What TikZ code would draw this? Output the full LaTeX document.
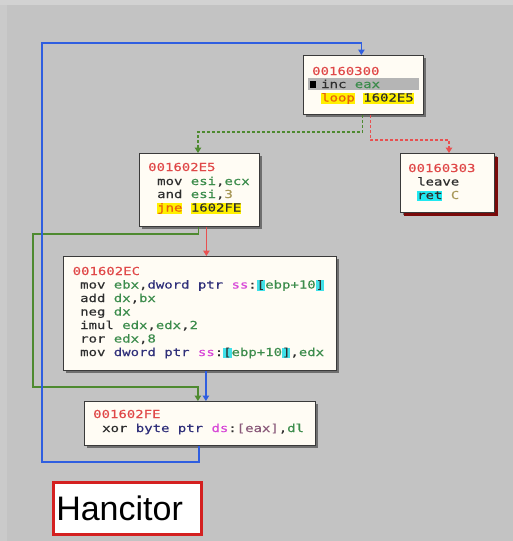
\documentclass[tikz,border=0pt]{standalone}
\usepackage{fontspec}
\usetikzlibrary{arrows.meta,shadows}
\newfontfamily\asm{DejaVu Sans Mono}[FakeStretch=1.27,FakeBold=0.35]
\newfontfamily\labelfont{Liberation Sans}

\definecolor{bg}{HTML}{C3C3C3}
\definecolor{bgtop}{HTML}{D2D2D2}
\definecolor{bgleft}{HTML}{CACACA}
\definecolor{addr}{HTML}{E04848}
\definecolor{mnem}{HTML}{2E2E2E}
\definecolor{reg}{HTML}{3C8C4C}
\definecolor{ptrc}{HTML}{30307A}
\definecolor{seg}{HTML}{D848D8}
\definecolor{imm}{HTML}{A89858}
\definecolor{memc}{HTML}{8A5A7A}
\definecolor{jmpt}{HTML}{E8600A}
\definecolor{jmpbg}{HTML}{FFF000}
\definecolor{retbg}{HTML}{20E8F0}
\definecolor{brkbg}{HTML}{40E0E8}
\definecolor{cream}{HTML}{FFFCF4}
\definecolor{edge}{HTML}{3A3A3A}
\definecolor{shade}{HTML}{6E6E6E}
\definecolor{retshade}{HTML}{7A0A0A}
\definecolor{sel}{HTML}{B5B5B5}
\definecolor{linkblue}{HTML}{2F5EE0}
\definecolor{linkgreen}{HTML}{4E8A30}
\definecolor{linkred}{HTML}{E85050}
\definecolor{tagred}{HTML}{D42020}

% operand colouring
\newcommand\Ad[1]{\textcolor{addr}{#1}}
\newcommand\Rg[1]{\textcolor{reg}{#1}}
\newcommand\Pt[1]{\textcolor{ptrc}{#1}}
\newcommand\Sg[1]{\textcolor{seg}{#1}}
\newcommand\Imm[1]{\textcolor{imm}{#1}}
\newcommand\Hl[2]{{\setlength{\fboxsep}{0pt}\colorbox{#1}{\vphantom{Ap[}#2}}}

\tikzset{
  x=1pt, y=-1pt,
  blk/.style={draw=edge, fill=cream, line width=0.8pt, anchor=north west,
    inner sep=0pt, drop shadow={shadow xshift=3pt, shadow yshift=-3pt,
    fill=shade, opacity=1}},
  retblk/.style={blk, drop shadow={shadow xshift=4pt, shadow yshift=-4pt,
    fill=retshade, opacity=1}},
  asmline/.style={anchor=base west, inner sep=0pt, font=\asm\fontsize{11}{11}\selectfont,
    text=mnem},
  link/.style={line width=1.2pt, -{Triangle[width=6.5pt,length=5.5pt]}},
  dashlink/.style={link, dash pattern=on 3pt off 2pt},
}

\begin{document}
\begin{tikzpicture}
% backdrop
\fill[bg] (0,0) rectangle (513,541);
\fill[bgtop] (0,0) rectangle (513,5);
\fill[bgleft] (0,5) rectangle (7,541);

% basic blocks
\node[blk, minimum width=120pt, minimum height=59pt] (B1) at (303,55) {};
\node[blk, minimum width=120pt, minimum height=73pt] (B2) at (139,153) {};
\node[retblk, minimum width=94pt, minimum height=59pt] (B3) at (400,153) {};
\node[blk, minimum width=273pt, minimum height=114pt] (B4) at (63,256) {};
\node[blk, minimum width=231pt, minimum height=44pt] (B5) at (84,401) {};

% block 00160300
\fill[sel] (308,78) rectangle (419,90);
\fill[black] (309.5,81) rectangle (316,87.5);
\node[asmline] (b1l0) at (312,75) {\Ad{00160300}};
\node[asmline] (b1l1) at (321,88) {inc \Rg{eax}};
\node[asmline] (b1l2) at (321,101.5) {\Hl{jmpbg}{\textcolor{jmpt}{loop}} \Hl{jmpbg}{1602E5}};

% block 001602E5
\node[asmline] (b2l0) at (148,171) {\Ad{001602E5}};
\node[asmline] (b2l1) at (157,185) {mov \Rg{esi},\Rg{ecx}};
\node[asmline] (b2l2) at (157,198) {and \Rg{esi},\Imm{3}};
\node[asmline] (b2l3) at (157,211.5) {\Hl{jmpbg}{\textcolor{jmpt}{jne}} \Hl{jmpbg}{1602FE}};

% block 00160303
\node[asmline] (b3l0) at (408,172) {\Ad{00160303}};
\node[asmline] (b3l1) at (417,185.5) {leave};
\node[asmline] (b3l2) at (417,199) {\Hl{retbg}{ret} \Imm{C}};

% block 001602EC
\node[asmline] (b4l0) at (72.5,275) {\Ad{001602EC}};
\node[asmline] (b4l1) at (80,288.5) {mov \Rg{ebx},\Pt{dword ptr} \Sg{ss}:\Hl{brkbg}{[}\Rg{ebp+10}\Hl{brkbg}{]}};
\node[asmline] (b4l2) at (80,302) {add \Rg{dx},\Rg{bx}};
\node[asmline] (b4l3) at (80,315.5) {neg \Rg{dx}};
\node[asmline] (b4l4) at (80,329) {imul \Rg{edx},\Rg{edx},\Rg{2}};
\node[asmline] (b4l5) at (80,342.5) {ror \Rg{edx},\Rg{8}};
\node[asmline] (b4l6) at (80,356) {mov \Pt{dword ptr} \Sg{ss}:\Hl{brkbg}{[}\Rg{ebp+10}\Hl{brkbg}{]},\Rg{edx}};

% block 001602FE
\node[asmline] (b5l0) at (93,418) {\Ad{001602FE}};
\node[asmline] (b5l1) at (102,432) {xor \Pt{byte ptr} \Sg{ds}:\textcolor{memc}{[eax]},\Rg{dl}};

% routing points
\coordinate (gturn) at (198,132);
\coordinate (rturn) at (449,140);
\coordinate (fallL) at (33,234);
\coordinate (fallB) at (33,387);
\coordinate (backB) at (42,462);
\coordinate (backT) at (42,43);

% loop exits
\draw[dashlink, linkgreen] ([xshift=-1pt]B1.south) |- (gturn) -- (gturn |- B2.north);
\draw[dashlink, linkred] ([xshift=7pt]B1.south) |- (rturn) -- (rturn |- B3.north);
% conditional exits of 001602E5
\draw[link, linkred] ([xshift=7pt]B2.south) -- ([xshift=7pt]B2.south |- B4.north);
\draw[link, linkgreen] ([xshift=-1pt]B2.south) |- (fallL) -- (fallB) -| ([xshift=-2pt]B5.north);
% fall through into 001602FE
\draw[link, linkblue] ([xshift=6pt]B4.south) -- ([xshift=6pt]B4.south |- B5.north);
% back edge to the loop head
\draw[link, linkblue] ([xshift=-1pt]B5.south) |- (backB) -- (backT) -| ([xshift=-2pt]B1.north);

% tag
\node[draw=tagred, line width=2.5pt, fill=white, anchor=north west,
  minimum height=52pt, text width=142pt, inner xsep=3pt, align=left,
  font=\labelfont\fontsize{34}{34}\selectfont, text=black] (tag) at (52,481) {Hancitor};
\end{tikzpicture}
\end{document}
